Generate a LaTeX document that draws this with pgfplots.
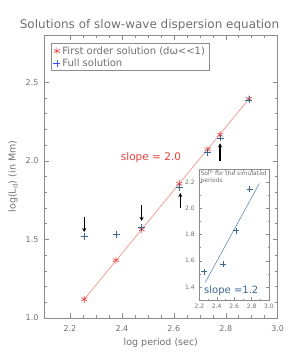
\documentclass[border=0pt]{standalone}
\usepackage{pgfplots}
\pgfplotsset{compat=1.18}
\usepackage{fontspec}
\setmainfont{DejaVu Sans}
\usetikzlibrary{arrows.meta}
\definecolor{txt}{HTML}{707070}
\definecolor{axc}{HTML}{8C8C8C}
\definecolor{redm}{HTML}{E8403C}
\definecolor{redl}{HTML}{F08A80}
\definecolor{bluem}{HTML}{3A6690}
\definecolor{bluel}{HTML}{6A8CB0}
\definecolor{bluelg}{HTML}{3A50FF}
\begin{document}
\begin{tikzpicture}
\begin{axis}[
  at={(0pt,0pt)}, anchor=south west,
  scale only axis, width=233.7pt, height=283pt,
  xmin=2.1, xmax=3.0, ymin=1.0, ymax=2.8,
  xtick={2.2,2.4,2.6,2.8,3.0}, ytick={1.0,1.5,2.0,2.5},
  minor x tick num=3, minor y tick num=4,
  tick align=inside, major tick length=5pt, minor tick length=3pt,
  axis line style={axc}, every tick/.style={axc, line width=0.5pt},
  tick label style={font=\fontsize{8}{9}\selectfont, text=txt},
  xticklabel style={yshift=-4pt, /pgf/number format/fixed, /pgf/number format/fixed zerofill, /pgf/number format/precision=1},
  yticklabel style={xshift=-2pt, /pgf/number format/fixed, /pgf/number format/fixed zerofill, /pgf/number format/precision=1},
  /pgf/number format/assume math mode=true,
  xlabel={log period (sec)},
  ylabel={log(L\textsubscript{d}) (in Mm)},
  xlabel style={at={(axis description cs:0.5,-0.0873)}, anchor=center, font=\fontsize{9.5}{11}\selectfont, text=txt},
  ylabel style={at={(axis description cs:-0.1327,0.5)}, anchor=center, rotate=0, font=\fontsize{9.5}{11}\selectfont, text=txt},
  legend style={at={(axis description cs:0.031,0.971)}, anchor=north west, draw=axc, font=\fontsize{10}{12}\selectfont, text=txt, inner xsep=2pt, inner ysep=1pt, row sep=-1pt},
  legend cell align=left,
]
\addlegendimage{only marks, mark=asterisk, mark size=3.5pt, redm, line width=0.6pt}
\addlegendentry{First order solution (d\hbox{ω}<{}<1)}
\addlegendimage{only marks, mark=+, mark size=3.5pt, draw=bluelg, color=bluelg, line width=0.8pt}
\addlegendentry{Full solution}
\addplot[redl, line width=0.6pt, forget plot] coordinates {(2.255,1.119) (2.889,2.393)};
\addplot[only marks, mark=asterisk, mark size=3.5pt, redm, line width=0.6pt, forget plot] coordinates {
(2.255,1.119) (2.377,1.367) (2.476,1.564) (2.621,1.854) (2.731,2.073) (2.778,2.166) (2.889,2.393)};
\addplot[only marks, mark=+, mark size=3.5pt, bluem, line width=0.7pt, forget plot] coordinates {
(2.255,1.517) (2.378,1.532) (2.476,1.574) (2.621,1.829) (2.731,2.052) (2.778,2.145) (2.889,2.387)};
\draw[black, line width=1.1pt, -{Stealth[length=4pt,width=4pt]}] (axis cs:2.255,1.642) -- (axis cs:2.255,1.547);
\draw[black, line width=1.1pt, -{Stealth[length=4pt,width=4pt]}] (axis cs:2.476,1.719) -- (axis cs:2.476,1.617);
\draw[black, line width=1.1pt, -{Stealth[length=4pt,width=4pt]}] (axis cs:2.625,1.700) -- (axis cs:2.625,1.795);
\draw[black, line width=1.1pt, -{Stealth[length=4pt,width=4pt]}] (axis cs:2.778,1.999) -- (axis cs:2.778,2.111);
\node[text=redm, font=\fontsize{10.5}{12}\selectfont] at (axis cs:2.512,2.020) {slope = 2.0};
\end{axis}
\begin{axis}[
  at={(155.3pt,18pt)}, anchor=south west,
  scale only axis, width=69.7pt, height=131pt,
  xmin=2.2, xmax=3.0, ymin=1.3, ymax=2.3,
  xtick={2.2,2.4,2.6,2.8,3.0}, ytick={1.4,1.6,1.8,2.0,2.2},
  minor x tick num=1, minor y tick num=1,
  tick align=inside, major tick length=3pt, minor tick length=1.5pt,
  axis background/.style={fill=white},
  axis line style={axc}, every tick/.style={axc, line width=0.4pt},
  tick label style={font=\fontsize{6}{7}\selectfont, text=txt},
  xticklabel style={yshift=-1pt, /pgf/number format/fixed, /pgf/number format/fixed zerofill, /pgf/number format/precision=1},
  yticklabel style={xshift=-1pt, /pgf/number format/fixed, /pgf/number format/fixed zerofill, /pgf/number format/precision=1},
  /pgf/number format/assume math mode=true,
]
\addplot[bluel, line width=0.6pt] coordinates {(2.269,1.435) (2.889,2.19)};
\addplot[only marks, mark=+, mark size=3pt, bluem, line width=0.6pt] coordinates {
(2.255,1.517) (2.476,1.574) (2.621,1.829) (2.778,2.145)};
\node[anchor=north west, align=left, inner sep=1pt, font=\fontsize{6}{6.5}\selectfont, text=txt] at (rel axis cs:0,1) {Sol\textsuperscript{n} for the simulated\\periods};
\node[text=bluem, font=\fontsize{10}{12}\selectfont] at (axis cs:2.567,1.369) {slope =1.2};
\end{axis}
\node[font=\fontsize{12}{14}\selectfont, text=txt] at (105.5pt,293pt) {Solutions of slow-wave dispersion equation};
\pgfresetboundingbox
\path[use as bounding box] (-44pt,-36pt) rectangle (255pt,318pt);
\end{tikzpicture}
\end{document}
